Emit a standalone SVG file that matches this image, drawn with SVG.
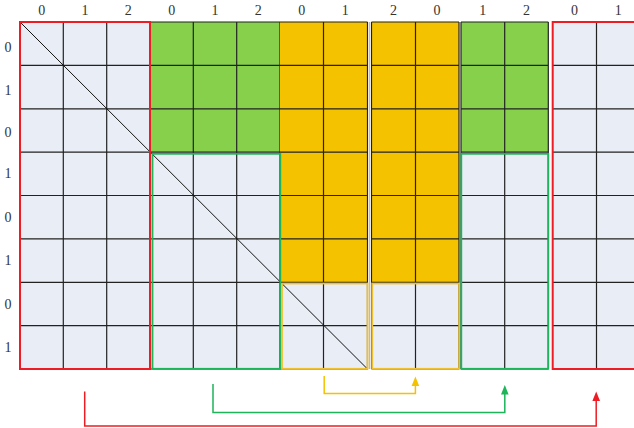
<svg xmlns="http://www.w3.org/2000/svg" width="634" height="428" viewBox="0 0 634 428">
<style>
.lt{fill:#e9edf6}
.gr{fill:#86d04c}
.or{fill:#f5c200}
.grid{stroke:#222;stroke-width:1.2;fill:none}
.lbl{font-family:"Liberation Serif",serif;font-size:14px;fill:#333;text-anchor:middle;dominant-baseline:central}
.ored{fill:none;stroke:#ee1c24;stroke-width:2}
.ogrn{fill:none;stroke:#1db45a;stroke-width:1.8}
.oylw{fill:none;stroke:#f0c030;stroke-width:1.8}
.conn{fill:none;stroke-width:1.5}
</style>
<rect width="634" height="428" fill="#fff"/>
<g id="labels">
<text class="lbl" x="41.7" y="10.5">0</text>
<text class="lbl" x="85" y="10.5">1</text>
<text class="lbl" x="128.3" y="10.5">2</text>
<text class="lbl" x="171.7" y="10.5">0</text>
<text class="lbl" x="215" y="10.5">1</text>
<text class="lbl" x="258.3" y="10.5">2</text>
<text class="lbl" x="301.7" y="10.5">0</text>
<text class="lbl" x="345.2" y="10.5">1</text>
<text class="lbl" x="393.4" y="10.5">2</text>
<text class="lbl" x="437.1" y="10.5">0</text>
<text class="lbl" x="482.8" y="10.5">1</text>
<text class="lbl" x="526.5" y="10.5">2</text>
<text class="lbl" x="574.6" y="10.5">0</text>
<text class="lbl" x="618.3" y="10.5">1</text>
<text class="lbl" x="8" y="47.5">0</text>
<text class="lbl" x="8" y="90">1</text>
<text class="lbl" x="8" y="132">0</text>
<text class="lbl" x="8" y="173.5">1</text>
<text class="lbl" x="8" y="217">0</text>
<text class="lbl" x="8" y="260.5">1</text>
<text class="lbl" x="8" y="304">0</text>
<text class="lbl" x="8" y="347.5">1</text>
</g>
<g id="block1">
<rect class="lt" x="20" y="22" width="130" height="347"/>
<path class="grid" d="M63.3,22V369M106.7,22V369M20,65.4H150M20,108.8H150M20,152.1H150M20,195.5H150M20,238.9H150M20,282.3H150M20,325.6H150M20,369H150"/>
</g>
<g id="block2">
<rect class="lt" x="150" y="22" width="130" height="347"/>
<rect class="gr" x="150" y="22" width="130" height="130.1"/>
<path class="grid" d="M150,22H280M193.3,22V369M236.7,22V369M280,22V369M150,65.4H280M150,108.8H280M150,152.1H280M150,195.5H280M150,238.9H280M150,282.3H280M150,325.6H280M150,369H280"/>
</g>
<g id="block3">
<rect class="lt" x="280" y="22" width="87.5" height="347"/>
<rect class="or" x="280" y="22" width="87.5" height="260.3"/>
<path class="grid" d="M280,22H367.5M323.5,22V369M367.5,22V369M280,65.4H367.5M280,108.8H367.5M280,152.1H367.5M280,195.5H367.5M280,238.9H367.5M280,282.3H367.5M280,325.6H367.5M280,369H367.5"/>
</g>
<line x1="369.5" y1="22" x2="369.5" y2="369" stroke="#bbb" stroke-width="1"/>
<g id="block4">
<rect class="lt" x="371.5" y="22" width="87.5" height="347"/>
<rect class="or" x="371.5" y="22" width="87.5" height="260.3"/>
<path class="grid" d="M371.5,22H459M371.5,22V369M415.5,22V369M459,22V369M371.5,65.4H459M371.5,108.8H459M371.5,152.1H459M371.5,195.5H459M371.5,238.9H459M371.5,282.3H459M371.5,325.6H459M371.5,369H459"/>
</g>
<g id="block5">
<rect class="lt" x="461" y="22" width="87.3" height="347"/>
<rect class="gr" x="461" y="22" width="87.3" height="130.1"/>
<path class="grid" d="M461,22H548.3M461,22V369M504.7,22V369M548.3,22V369M461,65.4H548.3M461,108.8H548.3M461,152.1H548.3M461,195.5H548.3M461,238.9H548.3M461,282.3H548.3M461,325.6H548.3M461,369H548.3"/>
</g>
<g id="block6">
<rect class="lt" x="552.7" y="22" width="90" height="347"/>
<path class="grid" d="M596.5,22V369M552.7,65.4H634M552.7,108.8H634M552.7,152.1H634M552.7,195.5H634M552.7,238.9H634M552.7,282.3H634M552.7,325.6H634"/>
</g>
<line id="diagonal" x1="20" y1="22" x2="367.5" y2="369" stroke="#111" stroke-width="1"/>
<g id="outlines">
<rect class="ored" x="20" y="22" width="130" height="347"/>
<rect class="ogrn" x="152.5" y="153.8" width="127.8" height="215"/>
<rect class="oylw" x="282" y="283.5" width="85.5" height="85.3"/>
<rect class="oylw" x="372.2" y="283.5" width="87" height="85.3"/>
<rect class="ogrn" x="461.3" y="153.8" width="87" height="215"/>
<path class="ored" d="M640,22H552.7V369H640"/>
</g>
<g id="connectors">
<path class="conn" stroke="#f5c200" d="M324.2,376V393.5H415.4V384"/>
<polygon fill="#f5c200" points="415.4,376.5 411.6,386 419.2,386"/>
<path class="conn" stroke="#1db45a" d="M213,384V412.5H504.8V392"/>
<polygon fill="#1db45a" points="504.8,385 501,394.5 508.6,394.5"/>
<path class="conn" stroke="#ee1c24" d="M84.7,391.5V426H596.2V399"/>
<polygon fill="#ee1c24" points="596.2,391.5 592.4,401 600,401"/>
</g>
</svg>
